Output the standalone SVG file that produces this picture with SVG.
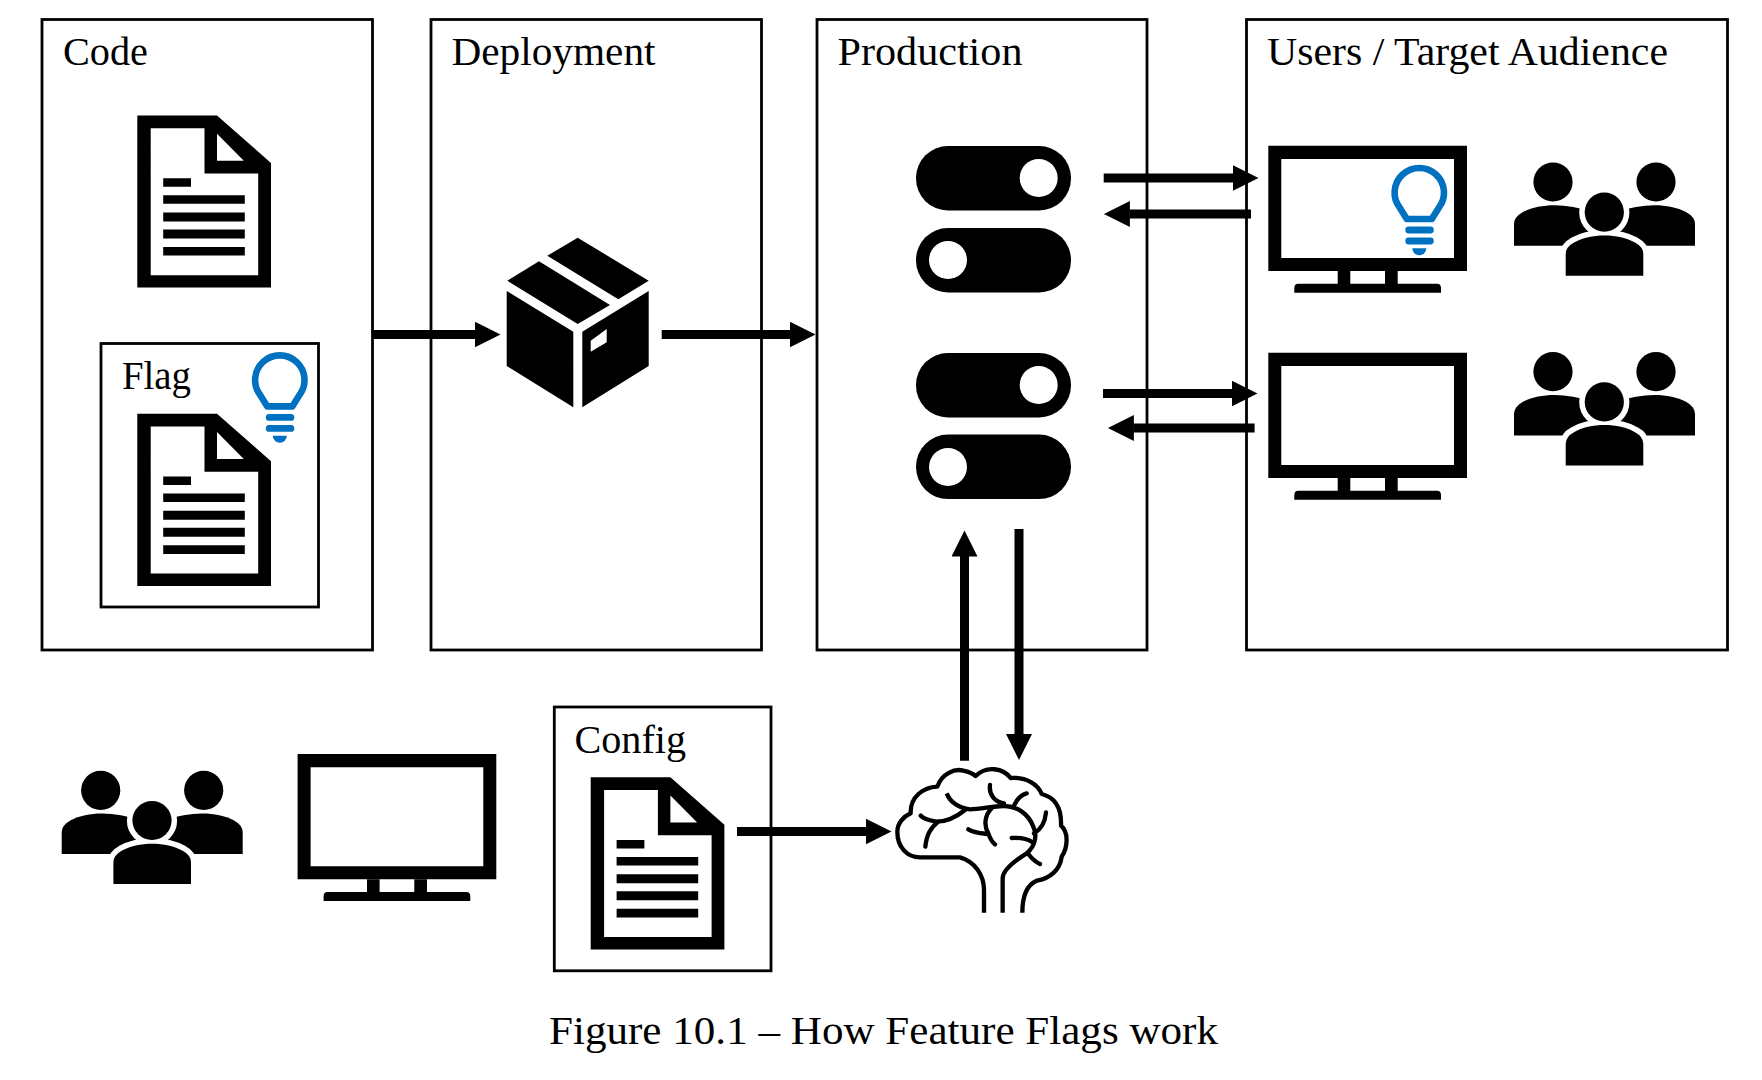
<svg xmlns="http://www.w3.org/2000/svg" width="1762" height="1080" viewBox="0 0 1762 1080">
<style>
.box{fill:none;stroke:#000;stroke-width:2.8}
.lbl{font-family:"Liberation Serif","Times New Roman",serif;font-size:39px;fill:#000}
.cap{font-family:"Liberation Serif","Times New Roman",serif;font-size:41px;fill:#000}
.conn{stroke:#000;stroke-width:9;fill:none;marker-end:url(#ah)}
.k{fill:#fff}
.b{fill:#0070c0}
.halo{fill:#fff;stroke:#fff;stroke-width:11}
.br{fill:none;stroke:#000;stroke-width:13;stroke-linecap:round;stroke-linejoin:round}
.br2{fill:none;stroke:#000;stroke-width:13;stroke-linejoin:round}
</style>
<defs>
<marker id="ah" markerUnits="userSpaceOnUse" markerWidth="27" markerHeight="26" refX="0.5" refY="13" orient="auto"><path d="M0,0L26,13L0,26Z" fill="#000"/></marker>
<g id="doc">
<path fill-rule="evenodd" d="M137.3,115.5H217L271,163V287.6H137.3ZM150.7,128.2V275.2H258.2V173.5H204.5V128.2Z"/>
<path class="k" d="M217,133.8L243.8,160.7H217Z"/>
<path d="M163.2,178.2H191V186.8H163.2ZM163.2,195.3H244.8V203.8H163.2ZM163.2,212.4H244.8V221.4H163.2ZM163.2,229.5H244.8V238.5H163.2ZM163.2,247H244.8V255.6H163.2Z"/>
</g>
<g id="bulb">
<path d="M-12.5,54.7L-19.5,43.5A24.7,24.7 0 1 1 19.5,43.5L12.5,54.7Z" fill="none" stroke="#0070c0" stroke-width="6.6" stroke-linejoin="round"/>
<rect class="b" x="-14" y="62.3" width="28.5" height="6.8" rx="3.4"/>
<rect class="b" x="-14" y="73.3" width="28.5" height="6.8" rx="3.4"/>
<path class="b" d="M-7,84H7A7,7 0 0 1 -7,84Z"/>
</g>
<g id="mon">
<path fill-rule="evenodd" d="M1268.3,145.7H1467V271H1268.3ZM1281.3,159V258H1454V159Z"/>
<path d="M1337.7,271H1350.3V283.7H1385V271H1397.7V283.7H1437Q1441,283.7 1441,288V292.7H1294.3V288Q1294.3,283.7 1298.3,283.7H1337.7Z"/>
</g>
<path id="midbody" d="M1565.700,275.700V254Q1565.700,247 1574,242.500C1590,233 1619,233 1635,242.500Q1643.300,247 1643.300,254V275.700Z"/>
<g id="ppl">
<circle cx="1553" cy="182" r="19.6"/>
<circle cx="1656" cy="182" r="19.6"/>
<path d="M1514,245.700V224Q1514,217 1523,212C1540,203 1567,203 1592,212V245.700Z"/>
<path d="M1695,245.700V224Q1695,217 1686,212C1669,203 1642,203 1617,212V245.700Z"/>
<circle class="halo" cx="1604.3" cy="212.2" r="19.6"/>
<use class="halo" href="#midbody"/>
<circle cx="1604.3" cy="212.2" r="19.6"/>
<use href="#midbody"/>
</g>
</defs>

<g id="code-box">
<rect class="box" x="42" y="19.500" width="330.500" height="630.500"/>
<text class="lbl" x="63" y="65" textLength="85" lengthAdjust="spacingAndGlyphs">Code</text>
<use href="#doc"/>
</g>
<g id="flag-box">
<rect class="box" x="101" y="343.500" width="217.500" height="263.500"/>
<text class="lbl" x="122" y="389" textLength="69" lengthAdjust="spacingAndGlyphs">Flag</text>
<use href="#doc" y="298.300"/>
<use href="#bulb" x="279.800" y="351.700"/>
</g>
<g id="deployment-box">
<rect class="box" x="431" y="19.500" width="330.500" height="630.500"/>
<text class="lbl" x="451.500" y="65" textLength="204" lengthAdjust="spacingAndGlyphs">Deployment</text>
</g>
<g id="package">
<path d="M577.700,237.700L648.700,280.700L618.300,299.300L547.300,255.700Z"/>
<path d="M539,261.300L610,305L577.700,324L507.300,280.700Z"/>
<path d="M506.700,291L573.300,331.700V407.300L506.700,366Z"/>
<path fill-rule="evenodd" d="M582.300,331.700L648.700,291V366L582.300,407.300ZM590.700,340.700V351.700L606.700,342.300V329Z"/>
</g>
<g id="production-box">
<rect class="box" x="817" y="19.500" width="330" height="630.500"/>
<text class="lbl" x="837.500" y="65" textLength="185" lengthAdjust="spacingAndGlyphs">Production</text>
</g>
<g id="toggle-1"><rect x="916" y="146" width="155" height="64.500" rx="32"/><circle class="k" cx="1038.700" cy="178" r="19"/></g>
<g id="toggle-2"><rect x="916" y="228" width="155" height="64.500" rx="32"/><circle class="k" cx="948" cy="260" r="19"/></g>
<g id="toggle-3"><rect x="916" y="353" width="155" height="64.500" rx="32"/><circle class="k" cx="1038.700" cy="385" r="19"/></g>
<g id="toggle-4"><rect x="916" y="434.600" width="155" height="64.500" rx="32"/><circle class="k" cx="948" cy="467" r="19"/></g>
<g id="users-box">
<rect class="box" x="1246.500" y="19.500" width="481" height="630.500"/>
<text class="lbl" x="1267" y="65" textLength="401" lengthAdjust="spacingAndGlyphs">Users / Target Audience</text>
</g>
<g id="monitor-1"><use href="#mon"/><use href="#bulb" x="1419.300" y="164.300"/></g>
<g id="people-1"><use href="#ppl"/></g>
<g id="monitor-2"><use href="#mon" y="207"/></g>
<g id="people-2"><use href="#ppl" y="189.700"/></g>
<g id="people-3"><use href="#ppl" x="-1452.300" y="608.300"/></g>
<g id="monitor-3"><use href="#mon" x="-970.700" y="608.300"/></g>
<g id="config-box">
<rect class="box" x="554.300" y="707" width="216.700" height="263.800"/>
<text class="lbl" x="574.500" y="752.500" textLength="111.500" lengthAdjust="spacingAndGlyphs">Config</text>
<use href="#doc" x="453.400" y="661.800"/>
</g>
<g id="brain" transform="translate(880 750) scale(.33333)">
<path class="br2" d="M312,488V420C312,375 285,335 240,322H120C80,322 52,290 52,245C52,220 70,200 92,190C90,140 130,112 172,110C185,70 225,55 250,62C268,66 280,72 287,78C320,45 370,55 392,84C440,80 475,105 485,132C525,142 545,175 543,227C565,245 565,290 545,320C540,360 510,385 470,392C440,405 427,440 427,488"/>
<path class="br2" d="M368,488V385C368,360 400,335 440,310C470,285 470,250 460,230C445,190 410,168 370,168C340,168 300,178 270,178C235,175 210,155 200,130"/>
<path class="br" d="M330,105C326,135 345,155 372,160M440,130C420,135 410,150 403,165M498,187C495,220 480,240 462,250M395,264C420,263 445,268 455,275M445,312C455,325 465,335 480,342M335,175C315,195 310,225 325,250C330,265 335,275 345,283M265,238C285,250 305,250 325,252M255,180C230,200 200,215 170,215C150,212 130,207 122,197M175,215C150,235 140,255 136,290"/>
</g>
<g id="connectors">
<path class="conn" d="M372,334.500H475"/>
<path class="conn" d="M661.700,334.500H790"/>
<path class="conn" d="M1103.700,178H1233"/>
<path class="conn" d="M1251,214H1129.400"/>
<path class="conn" d="M1103,393.500H1232"/>
<path class="conn" d="M1254.600,428H1133.400"/>
<path class="conn" d="M964.500,760.700V556"/>
<path class="conn" d="M1019,529V734.500"/>
<path class="conn" d="M737,831.500H866"/>
</g>
<text id="caption" class="cap" x="549" y="1043.500" textLength="669" lengthAdjust="spacingAndGlyphs">Figure 10.1 – How Feature Flags work</text>
</svg>
